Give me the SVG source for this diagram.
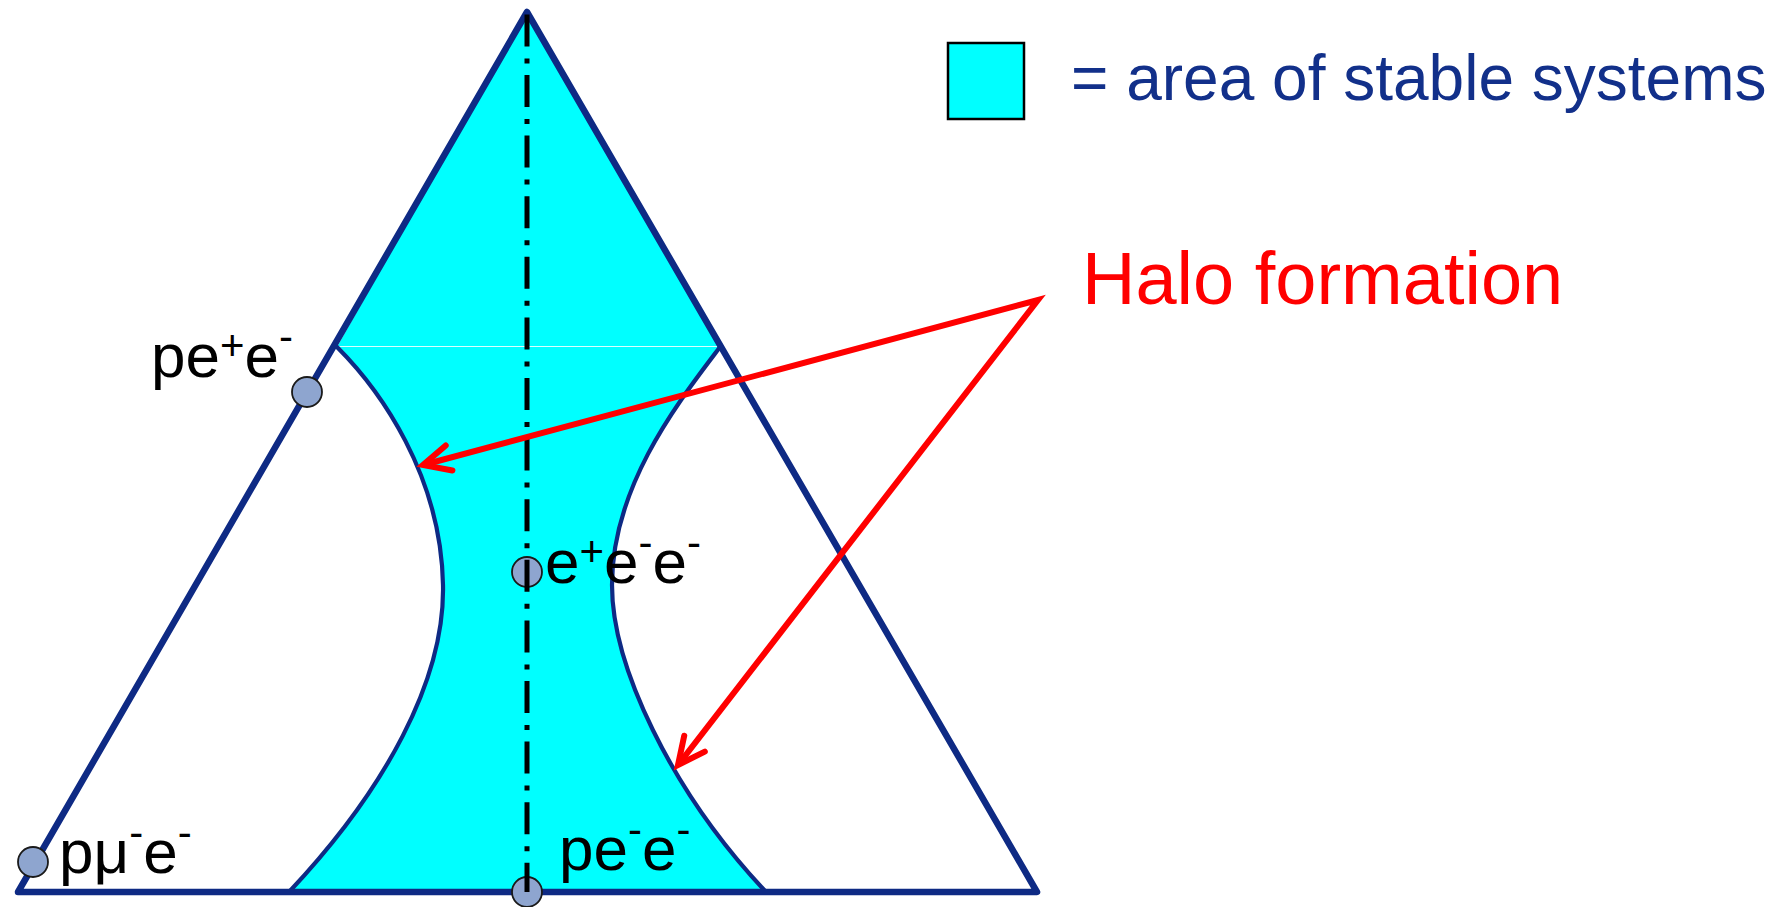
<svg xmlns="http://www.w3.org/2000/svg" width="1784" height="907" viewBox="0 0 1784 907">
<style>
.lbl{font-family:"Liberation Sans",Arial,sans-serif;font-size:62px;fill:#000}
.sup{font-size:42px}
.edge{fill:none;stroke:#0E2A84;stroke-width:6.5;stroke-linejoin:round;stroke-linecap:round}
.curve{fill:none;stroke:#0E2A84;stroke-width:4.2;stroke-linejoin:round;stroke-linecap:round}
.dot{fill:#8EA5CF;stroke:#1a1a1a;stroke-width:1.8}
.arrow{fill:none;stroke:#FF0000;stroke-width:6}
</style>
<defs>
<marker id="ah" markerUnits="userSpaceOnUse" viewBox="-34 -18 38 36" refX="0" refY="0" markerWidth="38" markerHeight="36" orient="auto-start-reverse" overflow="visible">
<path d="M -27 -13 L 0 0 L -27 13" fill="none" stroke="#FF0000" stroke-width="6" stroke-linecap="round" stroke-linejoin="miter"/>
</marker>
</defs>
<rect width="1784" height="907" fill="#fff"/>
<g id="stable-area">
<path fill="#00FFFF" stroke="none" d="M527 12 L720 347 C680 400 612 485 612 585 C612 665 670 790 766 892 L289 892 C385 790 445 680 443 585 C441 475 380 390 337 347 Z"/>
<line x1="337" y1="346.5" x2="720" y2="346.5" stroke="#FFFFFF" stroke-width="1" opacity="0.85"/>
<path class="curve" d="M337 347 C380 390 441 475 443 585 C445 680 385 790 289 892"/>
<path class="curve" d="M720 347 C680 400 612 485 612 585 C612 665 670 790 766 892"/>
</g>
<g id="triangle">
<path class="edge" d="M527 12 L1037 892 L18 892 Z"/>
</g>
<g id="node-pe+e-">
<circle class="dot" cx="307" cy="392" r="15"/>
<text class="lbl" x="151" y="377">pe<tspan class="sup" dy="-17">+</tspan><tspan dy="17">e</tspan><tspan class="sup" dy="-26">-</tspan></text>
</g>
<g id="node-pmu-e-">
<circle class="dot" cx="33" cy="862" r="15"/>
<text class="lbl" x="59" y="873">pμ<tspan class="sup" dy="-26">-</tspan><tspan dy="26">e</tspan><tspan class="sup" dy="-26">-</tspan></text>
</g>
<g id="node-e+e-e-">
<circle class="dot" cx="527" cy="572" r="15"/>
<text class="lbl" x="545" y="583">e<tspan class="sup" dy="-17">+</tspan><tspan dy="17">e</tspan><tspan class="sup" dy="-26">-</tspan><tspan dy="26">e</tspan><tspan class="sup" dy="-26">-</tspan></text>
</g>
<g id="node-pe-e-">
<circle class="dot" cx="527" cy="892" r="15"/>
<text class="lbl" x="559" y="870">pe<tspan class="sup" dy="-26">-</tspan><tspan dy="26">e</tspan><tspan class="sup" dy="-26">-</tspan></text>
</g>
<g id="axis">
<line x1="527" y1="12" x2="527" y2="892" stroke="#000" stroke-width="5" stroke-dasharray="32 12 5 11.6" stroke-dashoffset="-2.4"/>
</g>
<g id="legend">
<rect x="948" y="43" width="76" height="76" fill="#00FFFF" stroke="#000" stroke-width="2.5"/>
<text x="1071" y="100" font-family="Liberation Sans, Arial, sans-serif" font-size="64" fill="#12308A">= area of stable systems</text>
</g>
<g id="halo-label">
<text x="1082" y="304" font-family="Liberation Sans, Arial, sans-serif" font-size="74" fill="#FF0000">Halo formation</text>
</g>
<g id="connectors">
<path class="arrow" d="M423 465 L1038 300 L678 765" stroke-linejoin="miter" marker-start="url(#ah)" marker-end="url(#ah)"/>
</g>
</svg>
